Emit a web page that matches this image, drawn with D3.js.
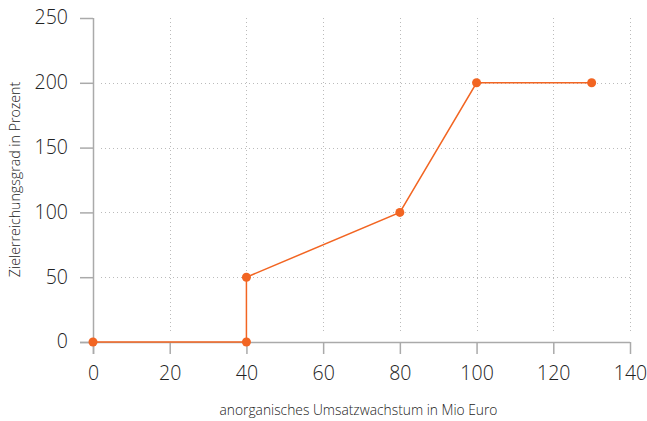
<!DOCTYPE html>
<html>
<head>
<meta charset="utf-8">
<script src="https://cdn.jsdelivr.net/npm/d3@7"></script>
<style>
  body { margin: 0; background: #fff; }
  svg text { font-family: "Open Sans", "Noto Sans", sans-serif; }
  .tick text { fill: #222; font-size: 19.5px; font-weight: 300; }
  .axisTitle { fill: #222; font-size: 13.8px; font-weight: 300; }
</style>
</head>
<body>
<svg id="chart" width="647" height="421"></svg>
<script>
// data
var umsatz = [0, 40, 40, 80, 100, 130];
var zielerreichung = [0, 0, 50, 100, 200, 200];
var xTicks = [0, 20, 40, 60, 80, 100, 120, 140];
var yTicks = [0, 50, 100, 150, 200, 250];
var xAxisTitle = "anorganisches Umsatzwachstum in Mio Euro";
var yAxisTitle = "Zielerreichungsgrad in Prozent";

var margin = {top: 18, right: 17, bottom: 79, left: 93};
var width = 647 - margin.left - margin.right,
    height = 421 - margin.top - margin.bottom;

var svg = d3.select("#chart").append("g")
    .attr("transform", "translate(" + margin.left + "," + margin.top + ")");

var x = d3.scaleLinear().domain([0, 140]).range([0, width]);
var y = d3.scaleLinear().domain([0, 250]).range([height, 0]);

//GRID
var grid = svg.append("g").attr("class", "grid")
    .attr("stroke", "#bbb").attr("stroke-width", 1).attr("stroke-dasharray", "1,3");
grid.selectAll(".vg").data(xTicks.slice(1)).enter().append("line")
    .attr("x1", function(d) { return Math.round(x(d)) + 0.5; })
    .attr("x2", function(d) { return Math.round(x(d)) + 0.5; })
    .attr("y1", y(250)).attr("y2", y(0) - 9);
grid.selectAll(".hg").data(yTicks.slice(1, -1)).enter().append("line")
    .attr("y1", function(d) { return Math.round(y(d)) + 0.5; })
    .attr("y2", function(d) { return Math.round(y(d)) + 0.5; })
    .attr("x1", 8).attr("x2", width);

//AXES
var xaxis = svg.append("g")
    .attr("transform", "translate(0," + height + ")")
    .call(d3.axisBottom(x).tickValues(xTicks).tickSize(12).tickSizeOuter(0).tickPadding(10));
xaxis.select(".domain").remove();
xaxis.append("line").attr("x1", -13).attr("x2", width).attr("y1", 0.5).attr("y2", 0.5);

var yaxis = svg.append("g")
    .call(d3.axisLeft(y).tickValues(yTicks).tickSize(13).tickSizeOuter(0).tickPadding(12));
yaxis.select(".domain").remove();
yaxis.append("line").attr("x1", 0.5).attr("x2", 0.5).attr("y1", 0).attr("y2", height + 12);

svg.selectAll(".tick line").attr("stroke", "#aaa").attr("stroke-width", 1.5);
xaxis.selectAll("line").attr("stroke", "#aaa").attr("stroke-width", 1.5);
yaxis.selectAll("line").attr("stroke", "#aaa").attr("stroke-width", 1.5);
xaxis.attr("font-family", null).attr("font-size", null);
yaxis.attr("font-family", null).attr("font-size", null);
xaxis.selectAll(".tick text").attr("dy", "0.8em");
yaxis.selectAll(".tick text").attr("dy", "0.3em");

svg.append("text").attr("class", "axisTitle")
    .attr("x", width / 2 - 3).attr("y", height + 73)
    .style("text-anchor", "middle")
    .text(xAxisTitle);
svg.append("text").attr("class", "axisTitle")
    .attr("transform", "rotate(-90)")
    .attr("x", -161.5).attr("y", -73)
    .style("text-anchor", "middle")
    .style("font-size", "14.2px")
    .text(yAxisTitle);

//LINE + POINTS
var pts = umsatz.map(function(d, i) { return [d, zielerreichung[i]]; });
var orange = "#f26522";
svg.append("path").datum(pts)
    .attr("fill", "none").attr("stroke", orange).attr("stroke-width", 1.5)
    .attr("d", d3.line().x(function(d) { return x(d[0]); }).y(function(d) { return y(d[1]); }));
svg.append("g").selectAll(".dot").data(pts).enter().append("circle")
    .attr("class", "dot")
    .attr("cx", function(d) { return x(d[0]); })
    .attr("cy", function(d) { return y(d[1]); })
    .attr("r", 4.5)
    .attr("fill", orange);
</script>
</body>
</html>
